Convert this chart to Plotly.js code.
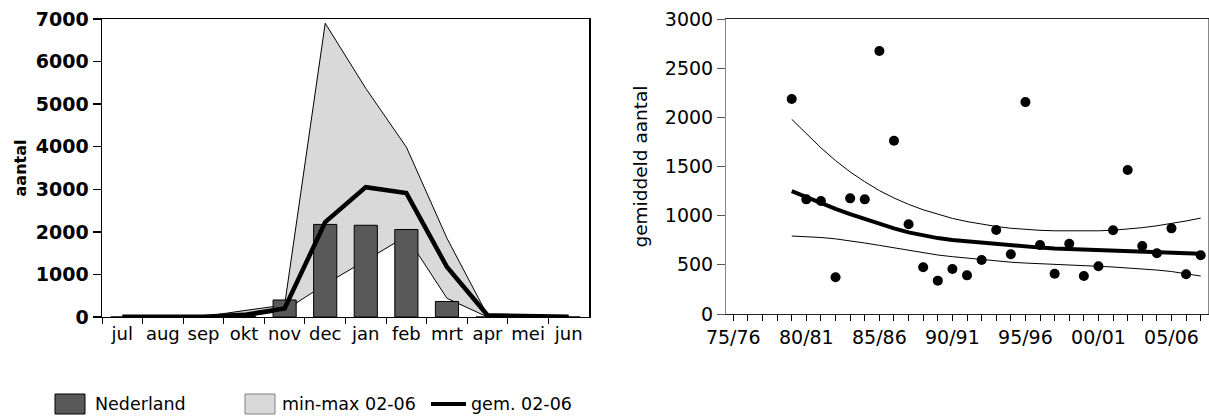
<!DOCTYPE html>
<html>
<head>
<meta charset="utf-8">
<script src="https://cdn.plot.ly/plotly-3.0.1.min.js"></script>
<style>
html,body{margin:0;padding:0;background:#fff;}
#chart{width:1209px;height:417px;}
</style>
</head>
<body>
<div id="chart"></div>
<script>
// ---------- left chart data (monthly counts) ----------
const months = ['jul','aug','sep','okt','nov','dec','jan','feb','mrt','apr','mei','jun'];
const nederland = [0, 0, 0, 10, 400, 2175, 2155, 2055, 365, 0, 0, 0];
const maxVals   = [0, 0, 10, 150, 280, 6900, 5370, 3990, 1850, 40, 10, 5];
const minVals   = [0, 0, 0, 0, 150, 770, 1330, 1900, 440, 0, 0, 0];
const meanVals  = [5, 5, 5, 50, 200, 2230, 3050, 2910, 1175, 40, 15, 5];

// ---------- right chart data (seasonal means) ----------
const seasons = ['75/76','76/77','77/78','78/79','79/80','80/81','81/82','82/83','83/84','84/85',
  '85/86','86/87','87/88','88/89','89/90','90/91','91/92','92/93','93/94','94/95',
  '95/96','96/97','97/98','98/99','99/00','00/01','01/02','02/03','03/04','04/05',
  '05/06','06/07','07/08'];
const labelledSeasons = ['75/76','80/81','85/86','90/91','95/96','00/01','05/06'];
const obsSeasons = ['79/80','80/81','81/82','82/83','83/84','84/85','85/86','86/87','87/88','88/89',
  '89/90','90/91','91/92','92/93','93/94','94/95','95/96','96/97','97/98','98/99',
  '99/00','00/01','01/02','02/03','03/04','04/05','05/06','06/07','07/08'];
const obsValues = [2186, 1166, 1149, 373, 1176, 1166, 2675, 1762, 912, 475,
  339, 458, 393, 549, 854, 607, 2155, 702, 410, 715,
  386, 485, 851, 1464, 692, 617, 871, 404, 597];
const trendValues = [1250, 1188, 1128, 1070, 1015, 965, 915, 870, 830, 800,
  772, 752, 738, 724, 712, 700, 688, 675, 666, 661,
  656, 651, 647, 642, 636, 631, 626, 620, 612];
const upperValues = [1980, 1830, 1690, 1560, 1445, 1345, 1255, 1180, 1115, 1060,
  1012, 972, 940, 912, 890, 872, 860, 851, 846, 844,
  844, 846, 852, 862, 878, 897, 920, 946, 975];
const lowerValues = [793, 788, 778, 764, 745, 722, 698, 673, 650, 628,
  600, 583, 568, 553, 538, 527, 518, 510, 503, 497,
  491, 485, 478, 470, 460, 447, 432, 412, 386];

const W = 1209, H = 417;
const px = v => v / W;
const py = v => 1 - v / H;

const traces = [
  {type:'scatter', mode:'lines', x: months, y: maxVals, xaxis:'x', yaxis:'y',
   line:{color:'#000', width:1}, hoverinfo:'skip', showlegend:false},
  {type:'scatter', mode:'lines', x: months, y: minVals, xaxis:'x', yaxis:'y',
   fill:'tonexty', fillcolor:'#d9d9d9',
   line:{color:'#000', width:1}, name:'min-max 02-06', showlegend:false},
  {type:'bar', x: months, y: nederland, xaxis:'x3', yaxis:'y3', width:0.57,
   marker:{color:'#595959', line:{color:'#000', width:1}}, name:'Nederland', showlegend:false},
  {type:'scatter', mode:'lines', x: months, y: meanVals, xaxis:'x3', yaxis:'y3',
   line:{color:'#000', width:4.5}, name:'gem. 02-06', showlegend:false},

  {type:'scatter', mode:'lines', x: obsSeasons, y: upperValues, xaxis:'x2', yaxis:'y2',
   line:{color:'#000', width:1}, showlegend:false},
  {type:'scatter', mode:'lines', x: obsSeasons, y: lowerValues, xaxis:'x2', yaxis:'y2',
   line:{color:'#000', width:1}, showlegend:false},
  {type:'scatter', mode:'lines', x: obsSeasons, y: trendValues, xaxis:'x2', yaxis:'y2',
   line:{color:'#000', width:4}, showlegend:false},
  {type:'scatter', mode:'markers', x: obsSeasons, y: obsValues, xaxis:'x2', yaxis:'y2',
   marker:{color:'#000', size:10}, showlegend:false}
];

const baseFont = {family:'DejaVu Sans', size:19, color:'#000'};

const layout = {
  width: W, height: H,
  margin:{l:0, r:0, t:0, b:0},
  paper_bgcolor:'#fff', plot_bgcolor:'rgba(0,0,0,0)',
  font: baseFont,
  showlegend:false,
  xaxis:{domain:[px(102), px(589)], anchor:'y', type:'category', categoryarray: months,
    categoryorder:'array', range:[-0.5, 11.5], tickson:'boundaries', tickangle:0,
    ticks:'outside', ticklen:6, tickcolor:'#000', tickwidth:1,
    showline:true, linecolor:'#000', linewidth:1, mirror:true,
    showgrid:false, zeroline:false, tickfont:{family:'DejaVu Sans', size:18, color:'#000'}},
  yaxis:{domain:[1 - 317/H, 1 - 19/H], anchor:'x', range:[0, 7000], dtick:1000,
    ticks:'outside', ticklen:8, tickcolor:'#000', tickwidth:1.5,
    showline:true, linecolor:'#000', linewidth:1.5, mirror:true,
    showgrid:false, zeroline:false,
    tickfont:{family:'DejaVu Sans', size:19, color:'#000', weight:'bold'},
    title:{text:'aantal', standoff:5, font:{family:'DejaVu Sans', size:16, color:'#000', weight:'bold'}}},
  xaxis3:{overlaying:'x', anchor:'y3', type:'category', categoryarray: months,
    categoryorder:'array', range:[-0.5, 11.5], visible:false},
  yaxis3:{overlaying:'y', anchor:'x3', range:[0, 7000], visible:false},

  xaxis2:{domain:[px(726), px(1208)], anchor:'y2', type:'category', categoryarray: seasons,
    categoryorder:'array', range:[-0.5, 32.5], tickangle:0,
    tickmode:'array', tickvals: seasons,
    ticktext: seasons.map(s => labelledSeasons.includes(s) ? s : ''),
    ticks:'outside', ticklen:6, tickcolor:'#000', tickwidth:1,
    showline:true, linecolor:'#222', linewidth:1, mirror:true,
    showgrid:false, zeroline:false, tickfont:{family:'DejaVu Sans', size:19, color:'#000'}},
  yaxis2:{domain:[1 - 314/H, 1 - 19/H], anchor:'x2', range:[0, 3000], dtick:500,
    ticks:'outside', ticklen:8, tickcolor:'#555', tickwidth:1,
    showline:true, linecolor:'#888', linewidth:1, mirror:true,
    showgrid:false, zeroline:false,
    tickfont:{family:'DejaVu Sans', size:19, color:'#000'},
    title:{text:'gemiddeld aantal', standoff:12, font:{family:'DejaVu Sans', size:18.5, color:'#000'}}},

  shapes:[
    {type:'rect', xref:'paper', yref:'paper', x0:px(55), x1:px(85), y0:py(414), y1:py(394),
     fillcolor:'#595959', line:{color:'#000', width:1}},
    {type:'rect', xref:'paper', yref:'paper', x0:px(245), x1:px(275), y0:py(414), y1:py(394),
     fillcolor:'#d9d9d9', line:{color:'#808080', width:1}},
    {type:'line', xref:'paper', yref:'paper', x0:px(431), x1:px(466), y0:py(404), y1:py(404),
     line:{color:'#000', width:4}}
  ],
  annotations:[
    {xref:'paper', yref:'paper', x:px(93), y:py(404), xanchor:'left', yanchor:'middle',
     text:'Nederland', showarrow:false, font:{family:'DejaVu Sans', size:17.5, color:'#000'}},
    {xref:'paper', yref:'paper', x:px(280), y:py(404), xanchor:'left', yanchor:'middle',
     text:'min-max 02-06', showarrow:false, font:{family:'DejaVu Sans', size:17.5, color:'#000'}},
    {xref:'paper', yref:'paper', x:px(469), y:py(404), xanchor:'left', yanchor:'middle',
     text:'gem. 02-06', showarrow:false, font:{family:'DejaVu Sans', size:17.5, color:'#000'}}
  ]
};

Plotly.newPlot('chart', traces, layout, {staticPlot:true, displayModeBar:false});
</script>
</body>
</html>
